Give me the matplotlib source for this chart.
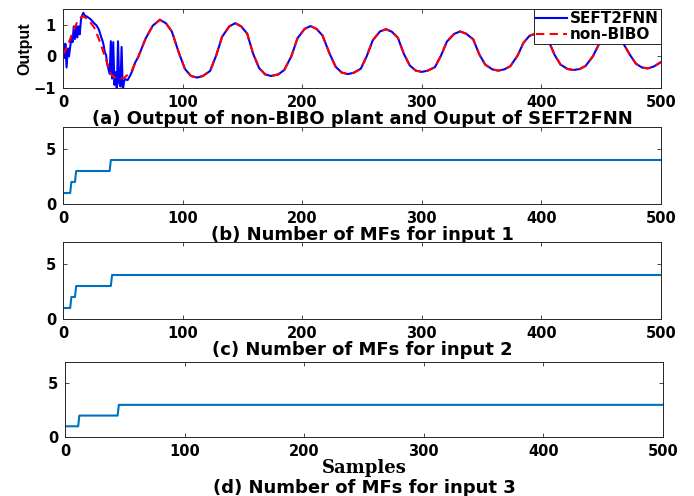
import matplotlib
matplotlib.use("Agg")
import matplotlib.pyplot as plt

# --- data ---
# (a) non-BIBO plant output (red dashed), sample index -> value
red_x = [0, 4, 8, 12, 16, 21, 26, 30, 35, 40, 45,
         51, 57, 63, 69, 75, 81, 86, 91, 97, 102, 107, 112,
         117, 123, 128, 133, 139, 144, 149, 154, 159, 164, 169, 174,
         180, 185, 191, 196, 202, 207, 212, 217, 223, 228, 233, 238,
         243, 249, 254, 259, 265, 270, 275, 280, 285, 290, 295, 300,
         305, 311, 316, 321, 327, 332, 337, 343, 348, 353, 359, 364,
         369, 374, 380, 385, 390, 395, 400, 406, 411, 416, 422, 427,
         432, 437, 443, 448, 453, 458, 463, 468, 474, 479, 484, 489,
         494, 500]
red_y = [0.05, 0.35, 0.75, 1.10, 1.28, 1.18, 0.92, 0.55, 0.00, -0.56, -0.72,
         -0.68, -0.49, -0.01, 0.56, 0.97, 1.16, 1.05, 0.79, 0.10, -0.40, -0.62, -0.67,
         -0.62, -0.46, 0.02, 0.62, 0.95, 1.05, 0.95, 0.72, 0.08, -0.37, -0.57, -0.62,
         -0.57, -0.43, 0.01, 0.57, 0.87, 0.96, 0.87, 0.66, 0.08, -0.33, -0.51, -0.56,
         -0.52, -0.39, 0.01, 0.51, 0.79, 0.86, 0.78, 0.59, 0.08, -0.29, -0.45, -0.49,
         -0.45, -0.34, 0.02, 0.47, 0.71, 0.79, 0.72, 0.54, 0.07, -0.26, -0.41, -0.45,
         -0.41, -0.31, 0.02, 0.43, 0.65, 0.72, 0.65, 0.49, 0.05, -0.26, -0.40, -0.43,
         -0.40, -0.30, 0.00, 0.38, 0.59, 0.65, 0.59, 0.44, 0.05, -0.23, -0.35, -0.38,
         -0.32, -0.18]

# SEFT2FNN output: noisy during the first ~55 samples, then tracks the plant
blue_early_x = [0, 1, 2, 3, 4, 5, 6, 7, 8, 9, 10, 11, 12, 13, 14, 15, 16, 17, 18,
                20, 23, 26, 28, 30, 32, 33, 34, 35, 36, 37, 38, 39, 40, 41, 42, 43,
                44, 45, 46, 47, 48, 49, 50, 51, 52, 54, 56, 58, 60]
blue_early_y = [0.45, -0.05, 0.40, -0.35, 0.25, 0.00, 0.30, 0.60, 0.45, 0.95, 0.55,
                1.00, 0.60, 0.95, 0.70, 1.15, 1.30, 1.38, 1.30, 1.26, 1.18, 1.05,
                0.98, 0.85, 0.60, 0.50, 0.35, 0.12, 0.05, -0.25, -0.40, -0.55, 0.48,
                -0.70, 0.45, -0.90, -0.50, -1.10, 0.48, -0.85, -0.95, 0.30, -1.10,
                -0.80, -0.72, -0.75, -0.62, -0.45, -0.22]
start = red_x.index(63)
blue_x = blue_early_x + red_x[start:]
blue_y = blue_early_y + red_y[start:]

# (b)-(d) number of membership functions per input
samples = list(range(0, 501))
mf1 = [1 if n < 7 else 2 if n < 11 else 3 if n < 40 else 4 for n in samples]
mf2 = [1 if n < 7 else 2 if n < 11 else 3 if n < 41 else 4 for n in samples]
mf3 = [1 if n < 12 else 2 if n < 45 else 3 for n in samples]

titles = ["(a) Output of non-BIBO plant and Ouput of SEFT2FNN",
          "(b) Number of MFs for input 1",
          "(c) Number of MFs for input 2",
          "(d) Number of MFs for input 3"]

AX_COLOR = "#262626"
BOLD = dict(family="DejaVu Sans", weight="bold")
TITLE_SIZE = 13

fig = plt.figure(figsize=(6.94, 4.96), dpi=100)
W, H = 694, 496


def add_axes(l, t, r, b):
    return fig.add_axes([l / W, 1 - b / H, (r - l) / W, (b - t) / H])


def style(ax):
    ax.set_xlim(0, 500)
    ax.set_xticks([0, 100, 200, 300, 400, 500])
    ax.tick_params(direction="in", length=3, width=0.6, color=AX_COLOR,
                   top=True, right=True, pad=5)
    for lbl in ax.get_xticklabels() + ax.get_yticklabels():
        lbl.set_fontfamily("DejaVu Sans")
        lbl.set_fontweight("bold")
        lbl.set_fontsize(10.5)
    for sp in ax.spines.values():
        sp.set_color(AX_COLOR)
        sp.set_linewidth(0.7)


ax_a = add_axes(63, 9, 661, 88)
ax_a.plot(blue_x, blue_y, color="#0000FF", lw=1.5, label="SEFT2FNN")
ax_a.plot(red_x, red_y, color="#FF0000", lw=1.5, ls=(0, (4, 2.5)), label="non-BIBO")
ax_a.set_ylim(-1, 1.5)
ax_a.set_yticks([-1, 0, 1])
style(ax_a)
ax_a.set_ylabel("Output", family="Liberation Sans", weight="bold", fontsize=11.5, labelpad=1)
ax_a.set_xlabel(titles[0], fontsize=TITLE_SIZE, labelpad=0, **BOLD)
leg = ax_a.legend(loc="upper right", borderaxespad=0, fancybox=False, framealpha=1,
                  edgecolor=AX_COLOR, handlelength=2.0, handletextpad=0.2,
                  labelspacing=0.05, borderpad=0.15,
                  prop=dict(family="DejaVu Sans", weight="bold", size=11))
leg.get_frame().set_linewidth(0.7)

mf_axes = [add_axes(63, 127, 661, 204), add_axes(63, 242, 661, 319),
           add_axes(65, 362, 663, 437)]
for ax, mf, title in zip(mf_axes, [mf1, mf2, mf3], titles[1:]):
    ax.plot(samples, mf, color="#0072BD", lw=1.5)
    ax.set_ylim(0, 7)
    ax.set_yticks([0, 5])
    style(ax)

mf_axes[0].set_xlabel(titles[1], fontsize=TITLE_SIZE, labelpad=0, **BOLD)
mf_axes[1].set_xlabel(titles[2], fontsize=TITLE_SIZE, labelpad=0, **BOLD)
mf_axes[2].set_xlabel("Samples", family="DejaVu Serif", weight="bold",
                      fontsize=13, labelpad=0)
fig.text((65 + 663) / 2 / W, 1 - 488 / H, titles[3], ha="center", va="center",
         fontsize=TITLE_SIZE, **BOLD)

fig.savefig("out.png", dpi=100)
